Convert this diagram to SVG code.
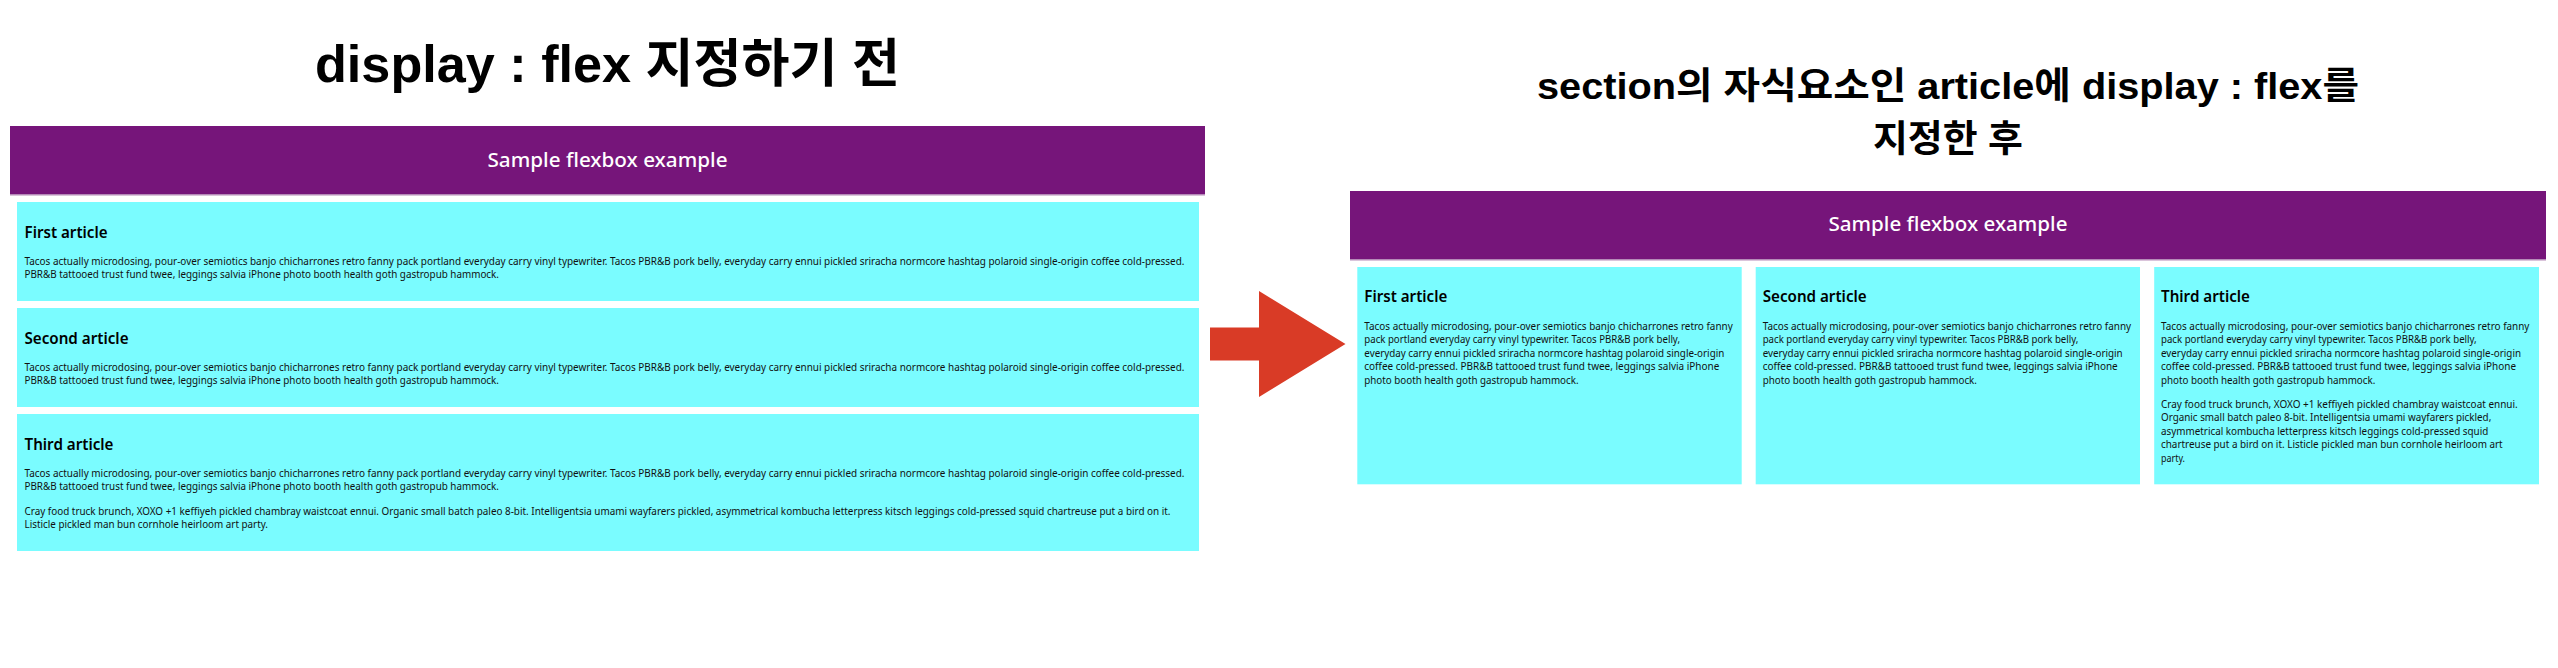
<svg xmlns="http://www.w3.org/2000/svg" width="2558" height="668" viewBox="0 0 2558 668">
<style>
.title{font-family:"Liberation Sans","Noto Sans CJK KR",sans-serif;font-weight:700;fill:#000}
.hdr{fill:#76157a}
.hdrline{fill:#b58ab8}
.hdrtxt{font-family:"Noto Sans",sans-serif;font-size:20.5px;font-weight:500;fill:#fff}
.art{fill:#7afcff}
.h{font-family:"Noto Sans",sans-serif;font-size:16.5px;font-weight:600;fill:#000}
.p{font-family:"Noto Sans",sans-serif;font-size:10.3px;fill:#111}
.arrow{fill:#d93b26}
</style>
<rect width="2558" height="668" fill="#fff"/>

<g id="title-before">
<text class="title" x="607.5" y="82" font-size="52" text-anchor="middle" textLength="585" lengthAdjust="spacingAndGlyphs">display : flex 지정하기 전</text>
</g>

<g id="header-before">
<rect class="hdr" x="10" y="126" width="1195" height="68"/>
<rect class="hdrline" x="10" y="194" width="1195" height="1.5"/>
<text class="hdrtxt" x="607.5" y="166.5" text-anchor="middle" textLength="240" lengthAdjust="spacingAndGlyphs">Sample flexbox example</text>
</g>

<g id="article1-before">
<rect class="art" x="17" y="202" width="1182" height="99"/>
<text class="h" x="24.5" y="237.5" textLength="83" lengthAdjust="spacingAndGlyphs">First article</text>
<text class="p" x="24.5" y="265" textLength="1160" lengthAdjust="spacingAndGlyphs">Tacos actually microdosing, pour-over semiotics banjo chicharrones retro fanny pack portland everyday carry vinyl typewriter. Tacos PBR&amp;B pork belly, everyday carry ennui pickled sriracha normcore hashtag polaroid single-origin coffee cold-pressed.</text>
<text class="p" x="24.5" y="278.4" textLength="474.5" lengthAdjust="spacingAndGlyphs">PBR&amp;B tattooed trust fund twee, leggings salvia iPhone photo booth health goth gastropub hammock.</text>
</g>

<g id="article2-before">
<rect class="art" x="17" y="308" width="1182" height="99"/>
<text class="h" x="24.5" y="343.5" textLength="104" lengthAdjust="spacingAndGlyphs">Second article</text>
<text class="p" x="24.5" y="371" textLength="1160" lengthAdjust="spacingAndGlyphs">Tacos actually microdosing, pour-over semiotics banjo chicharrones retro fanny pack portland everyday carry vinyl typewriter. Tacos PBR&amp;B pork belly, everyday carry ennui pickled sriracha normcore hashtag polaroid single-origin coffee cold-pressed.</text>
<text class="p" x="24.5" y="384.4" textLength="474.5" lengthAdjust="spacingAndGlyphs">PBR&amp;B tattooed trust fund twee, leggings salvia iPhone photo booth health goth gastropub hammock.</text>
</g>

<g id="article3-before">
<rect class="art" x="17" y="414" width="1182" height="137"/>
<text class="h" x="24.5" y="449.5" textLength="89" lengthAdjust="spacingAndGlyphs">Third article</text>
<text class="p" x="24.5" y="477" textLength="1160" lengthAdjust="spacingAndGlyphs">Tacos actually microdosing, pour-over semiotics banjo chicharrones retro fanny pack portland everyday carry vinyl typewriter. Tacos PBR&amp;B pork belly, everyday carry ennui pickled sriracha normcore hashtag polaroid single-origin coffee cold-pressed.</text>
<text class="p" x="24.5" y="490.4" textLength="474.5" lengthAdjust="spacingAndGlyphs">PBR&amp;B tattooed trust fund twee, leggings salvia iPhone photo booth health goth gastropub hammock.</text>
<text class="p" x="24.5" y="514.7" textLength="1146" lengthAdjust="spacingAndGlyphs">Cray food truck brunch, XOXO +1 keffiyeh pickled chambray waistcoat ennui. Organic small batch paleo 8-bit. Intelligentsia umami wayfarers pickled, asymmetrical kombucha letterpress kitsch leggings cold-pressed squid chartreuse put a bird on it.</text>
<text class="p" x="24.5" y="528.1" textLength="243.5" lengthAdjust="spacingAndGlyphs">Listicle pickled man bun cornhole heirloom art party.</text>
</g>

<g id="connectors">
<polygon class="arrow" points="1210,327.5 1259,327.5 1259,291 1345.5,344 1259,397 1259,360.5 1210,360.5"/>
</g>

<g id="title-after">
<text class="title" x="1948" y="99" font-size="37" text-anchor="middle" textLength="822" lengthAdjust="spacingAndGlyphs">section의 자식요소인 article에 display : flex를</text>
<text class="title" x="1948" y="152" font-size="37" text-anchor="middle" textLength="150" lengthAdjust="spacingAndGlyphs">지정한 후</text>
</g>

<g id="header-after">
<rect class="hdr" x="1350" y="191" width="1196" height="68"/>
<rect class="hdrline" x="1350" y="259" width="1196" height="1.5"/>
<text class="hdrtxt" x="1948" y="231" text-anchor="middle" textLength="239" lengthAdjust="spacingAndGlyphs">Sample flexbox example</text>
</g>

<g id="article1-after">
<rect class="art" x="1357.3" y="267" width="384.4" height="217.3"/>
<text class="h" x="1364.3" y="301.7" textLength="83" lengthAdjust="spacingAndGlyphs">First article</text>
<text class="p" x="1364.3" y="330" textLength="368.4" lengthAdjust="spacingAndGlyphs">Tacos actually microdosing, pour-over semiotics banjo chicharrones retro fanny</text>
<text class="p" x="1364.3" y="343.4" textLength="315.7" lengthAdjust="spacingAndGlyphs">pack portland everyday carry vinyl typewriter. Tacos PBR&amp;B pork belly,</text>
<text class="p" x="1364.3" y="356.8" textLength="360" lengthAdjust="spacingAndGlyphs">everyday carry ennui pickled sriracha normcore hashtag polaroid single-origin</text>
<text class="p" x="1364.3" y="370.2" textLength="355" lengthAdjust="spacingAndGlyphs">coffee cold-pressed. PBR&amp;B tattooed trust fund twee, leggings salvia iPhone</text>
<text class="p" x="1364.3" y="383.6" textLength="214.3" lengthAdjust="spacingAndGlyphs">photo booth health goth gastropub hammock.</text>
</g>

<g id="article2-after">
<rect class="art" x="1755.7" y="267" width="384.3" height="217.3"/>
<text class="h" x="1762.7" y="301.7" textLength="104" lengthAdjust="spacingAndGlyphs">Second article</text>
<text class="p" x="1762.7" y="330" textLength="368.4" lengthAdjust="spacingAndGlyphs">Tacos actually microdosing, pour-over semiotics banjo chicharrones retro fanny</text>
<text class="p" x="1762.7" y="343.4" textLength="315.7" lengthAdjust="spacingAndGlyphs">pack portland everyday carry vinyl typewriter. Tacos PBR&amp;B pork belly,</text>
<text class="p" x="1762.7" y="356.8" textLength="360" lengthAdjust="spacingAndGlyphs">everyday carry ennui pickled sriracha normcore hashtag polaroid single-origin</text>
<text class="p" x="1762.7" y="370.2" textLength="355" lengthAdjust="spacingAndGlyphs">coffee cold-pressed. PBR&amp;B tattooed trust fund twee, leggings salvia iPhone</text>
<text class="p" x="1762.7" y="383.6" textLength="214.3" lengthAdjust="spacingAndGlyphs">photo booth health goth gastropub hammock.</text>
</g>

<g id="article3-after">
<rect class="art" x="2154.2" y="267" width="384.8" height="217.3"/>
<text class="h" x="2161" y="301.7" textLength="89" lengthAdjust="spacingAndGlyphs">Third article</text>
<text class="p" x="2161" y="330" textLength="368.4" lengthAdjust="spacingAndGlyphs">Tacos actually microdosing, pour-over semiotics banjo chicharrones retro fanny</text>
<text class="p" x="2161" y="343.4" textLength="315.7" lengthAdjust="spacingAndGlyphs">pack portland everyday carry vinyl typewriter. Tacos PBR&amp;B pork belly,</text>
<text class="p" x="2161" y="356.8" textLength="360" lengthAdjust="spacingAndGlyphs">everyday carry ennui pickled sriracha normcore hashtag polaroid single-origin</text>
<text class="p" x="2161" y="370.2" textLength="355" lengthAdjust="spacingAndGlyphs">coffee cold-pressed. PBR&amp;B tattooed trust fund twee, leggings salvia iPhone</text>
<text class="p" x="2161" y="383.6" textLength="214.3" lengthAdjust="spacingAndGlyphs">photo booth health goth gastropub hammock.</text>
<text class="p" x="2161" y="407.9" textLength="356.7" lengthAdjust="spacingAndGlyphs">Cray food truck brunch, XOXO +1 keffiyeh pickled chambray waistcoat ennui.</text>
<text class="p" x="2161" y="421.3" textLength="330.3" lengthAdjust="spacingAndGlyphs">Organic small batch paleo 8-bit. Intelligentsia umami wayfarers pickled,</text>
<text class="p" x="2161" y="434.7" textLength="327.3" lengthAdjust="spacingAndGlyphs">asymmetrical kombucha letterpress kitsch leggings cold-pressed squid</text>
<text class="p" x="2161" y="448.1" textLength="341.7" lengthAdjust="spacingAndGlyphs">chartreuse put a bird on it. Listicle pickled man bun cornhole heirloom art</text>
<text class="p" x="2161" y="461.5" textLength="24" lengthAdjust="spacingAndGlyphs">party.</text>
</g>
</svg>
